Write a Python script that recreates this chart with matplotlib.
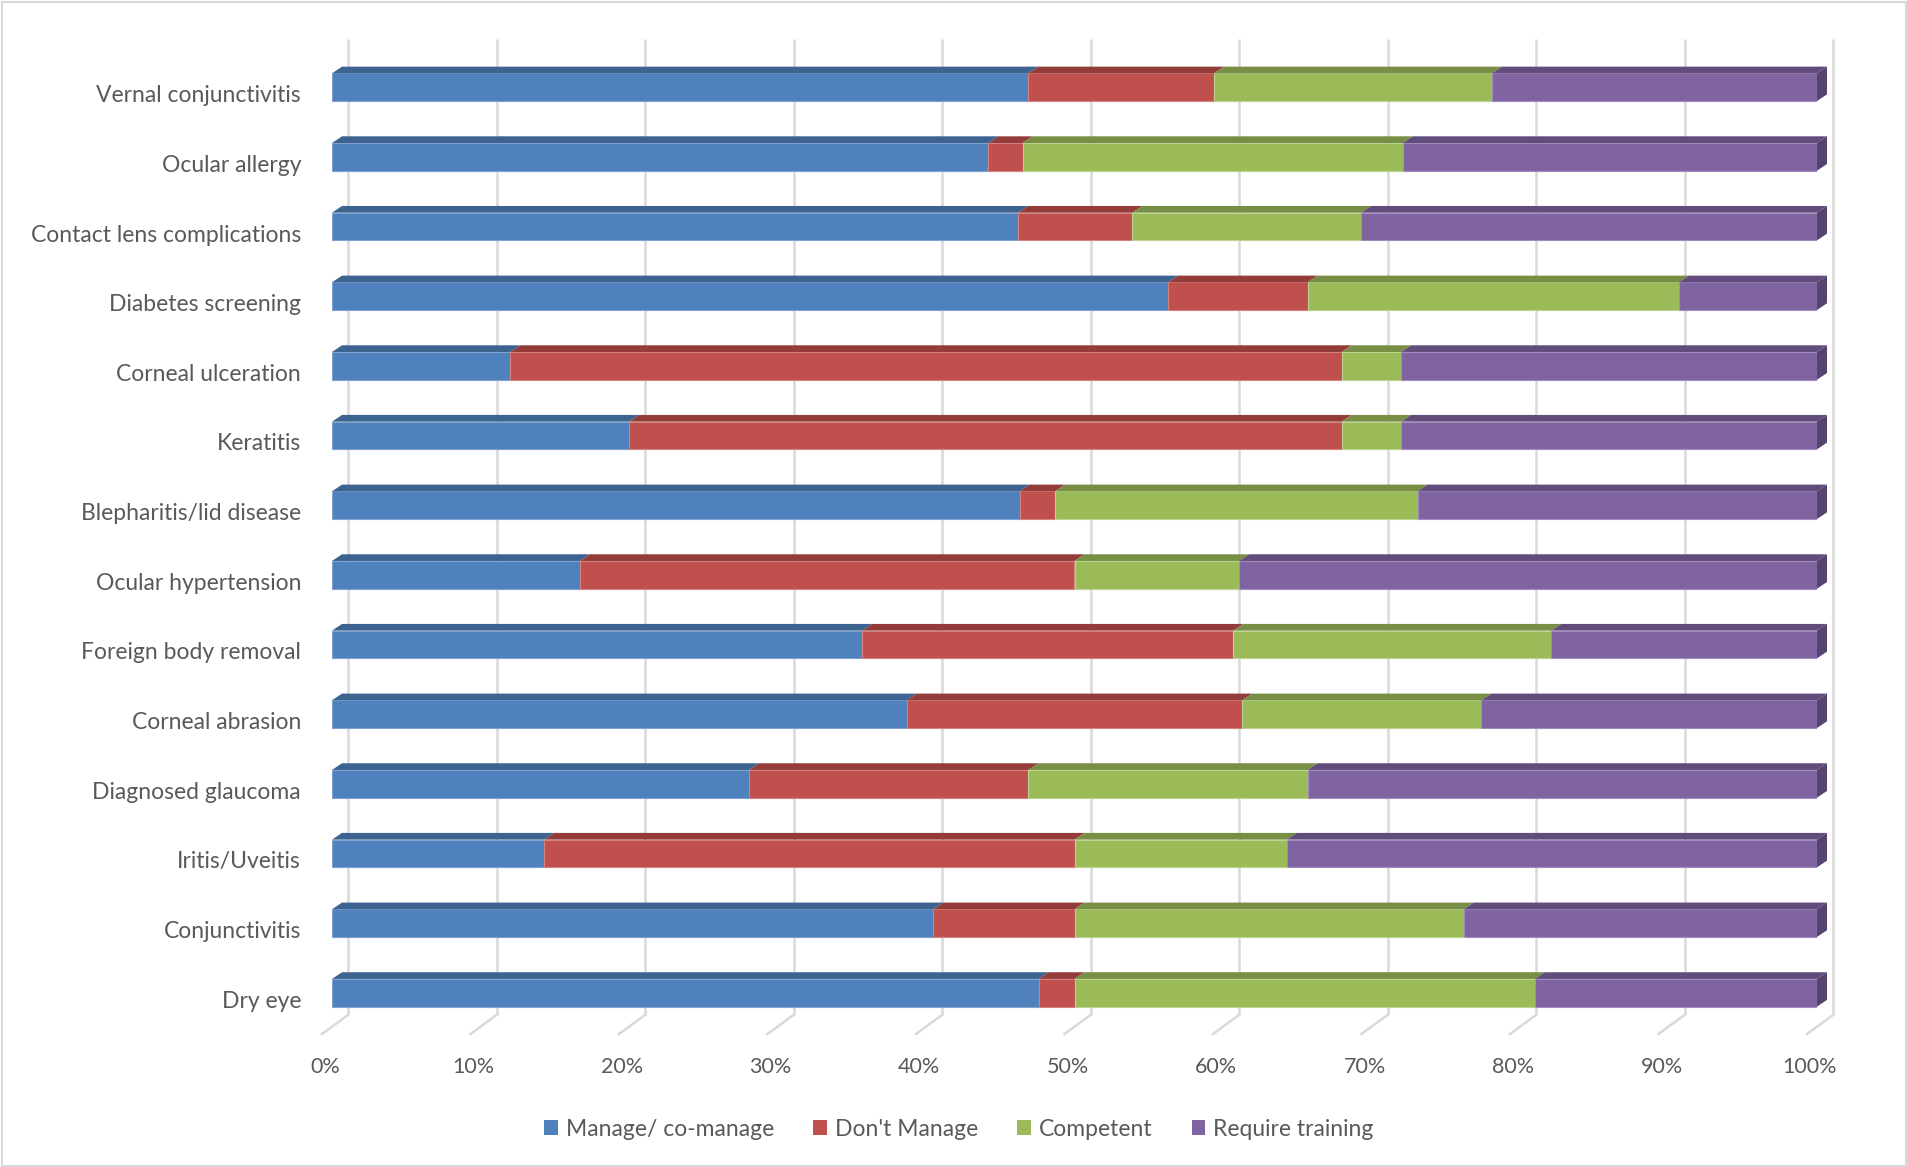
import numpy as np
import matplotlib
matplotlib.use("Agg")
import matplotlib.pyplot as plt
from matplotlib.patches import Polygon, Rectangle, Patch

plt.rcParams['font.family'] = ['Lato', 'DejaVu Sans']

categories = ["Vernal conjunctivitis", "Ocular allergy", "Contact lens complications",
              "Diabetes screening", "Corneal ulceration", "Keratitis",
              "Blepharitis/lid disease", "Ocular hypertension", "Foreign body removal",
              "Corneal abrasion", "Diagnosed glaucoma", "Iritis/Uveitis",
              "Conjunctivitis", "Dry eye"]
series_names = ["Manage/ co-manage", "Don't Manage", "Competent", "Require training"]
manage = [46.9, 44.2, 46.2, 56.3, 12.0, 20.0, 46.3, 16.7, 35.7, 38.7, 28.1, 14.3, 40.5, 47.6]
dont_manage = [12.5, 2.3, 7.7, 9.4, 56.0, 48.0, 2.4, 33.3, 25.0, 22.6, 18.8, 35.7, 9.5, 2.4]
competent = [18.7, 25.6, 15.4, 25.0, 4.0, 4.0, 24.4, 11.1, 21.4, 16.1, 18.8, 14.3, 26.2, 31.0]
require_training = [21.9, 27.9, 30.7, 9.3, 28.0, 28.0, 26.9, 38.9, 17.9, 22.6, 34.3, 35.7, 23.8, 19.0]
tick_values = [0, 10, 20, 30, 40, 50, 60, 70, 80, 90, 100]
tick_labels = ["0%", "10%", "20%", "30%", "40%", "50%", "60%", "70%", "80%", "90%", "100%"]

front_colors = ["#4F81BD", "#C0504D", "#9BBB59", "#8064A2"]
top_colors = ["#3D6390", "#933C3A", "#778E44", "#614C7C"]
edge_colors = ["#7FA3D0", "#D4827F", "#BCD48F", "#A18CBD"]
end_color = "#56436F"
text_color = "#595959"
grid_color = "#D9D9D9"

W, H = 1907, 1167
fig = plt.figure(figsize=(W / 100, H / 100), dpi=100)

# axes: x 0..100% maps to front face pixels 332..1817, y pixels 39..1015
x0_px, x1_px = 332, 1817
y_top_px, y_bot_px = 39, 1015
ax = fig.add_axes([x0_px / W, 1 - y_bot_px / H, (x1_px - x0_px) / W, (y_bot_px - y_top_px) / H])
px_per_pct = (x1_px - x0_px) / 100.0
c0_px, pitch_px = 87.2, 69.66
ylim_top = (y_top_px - c0_px) / pitch_px
ylim_bot = (y_bot_px - c0_px) / pitch_px
ax.set_xlim(0, 100)
ax.set_ylim(ylim_bot, ylim_top)
ax.axis('off')

dx = 10 / px_per_pct        # depth x offset of bar
dy = 6.7 / pitch_px         # depth y offset of bar
gx = 16 / px_per_pct        # back wall offset
h = 27.7 / 2 / pitch_px     # half bar height

# gridlines on back wall + floor ticks
for v in tick_values:
    ax.plot([v + gx, v + gx], [ylim_top, ylim_bot], color=grid_color, lw=1.8,
            zorder=0, clip_on=False, solid_capstyle='butt')
    ax.plot([v + gx, v + gx - 26 / px_per_pct], [ylim_bot, ylim_bot + 19 / pitch_px],
            color=grid_color, lw=1.8, zorder=0, clip_on=False)

for v, lab in zip(tick_values, tick_labels):
    ax.text(v - 0.47, (1067 - c0_px) / pitch_px, lab, ha='center', va='center',
            fontsize=15.5, color=text_color, clip_on=False)

data = np.array([manage, dont_manage, competent, require_training])
lefts = np.vstack([np.zeros(len(categories)), np.cumsum(data, axis=0)[:-1]])
y = np.arange(len(categories))

for k in range(4):
    ax.barh(y, data[k], left=lefts[k], height=2 * h, color=front_colors[k],
            edgecolor=edge_colors[k], linewidth=0.8, zorder=2)
    for i in range(len(categories)):
        a = lefts[k][i]
        b = a + data[k][i]
        top = y[i] - h
        poly = Polygon([(a, top), (b, top), (b + dx, top - dy), (a + dx, top - dy)],
                       closed=True, facecolor=top_colors[k], edgecolor='none', zorder=2,
                       clip_on=False)
        ax.add_patch(poly)

totals = np.cumsum(data, axis=0)[-1]
for i in range(len(categories)):
    e = totals[i]
    poly = Polygon([(e, y[i] - h), (e + dx, y[i] - h - dy), (e + dx, y[i] + h - dy), (e, y[i] + h)],
                   closed=True, facecolor=end_color, edgecolor='none', zorder=2, clip_on=False)
    ax.add_patch(poly)

for i, cat in enumerate(categories):
    ax.text((301 - x0_px) / px_per_pct, y[i] + 8.5 / pitch_px, cat, ha='right', va='center',
            fontsize=16.5, color=text_color, clip_on=False)

handles = [Patch(facecolor=front_colors[k], edgecolor='none') for k in range(4)]
fig.legend(handles, series_names, loc='center', bbox_to_anchor=(959 / W, 1 - 1129 / H),
           ncol=4, frameon=False, fontsize=16.5, handlelength=0.6, handleheight=0.6,
           handletextpad=0.35, columnspacing=1.7, labelcolor=text_color)

fig.patches.append(Rectangle((1.5 / W, 1.5 / H), (W - 3) / W, (H - 3) / H,
                             transform=fig.transFigure, fill=False,
                             edgecolor=grid_color, linewidth=1.5))

fig.savefig("out.png", dpi=100, facecolor='white')
